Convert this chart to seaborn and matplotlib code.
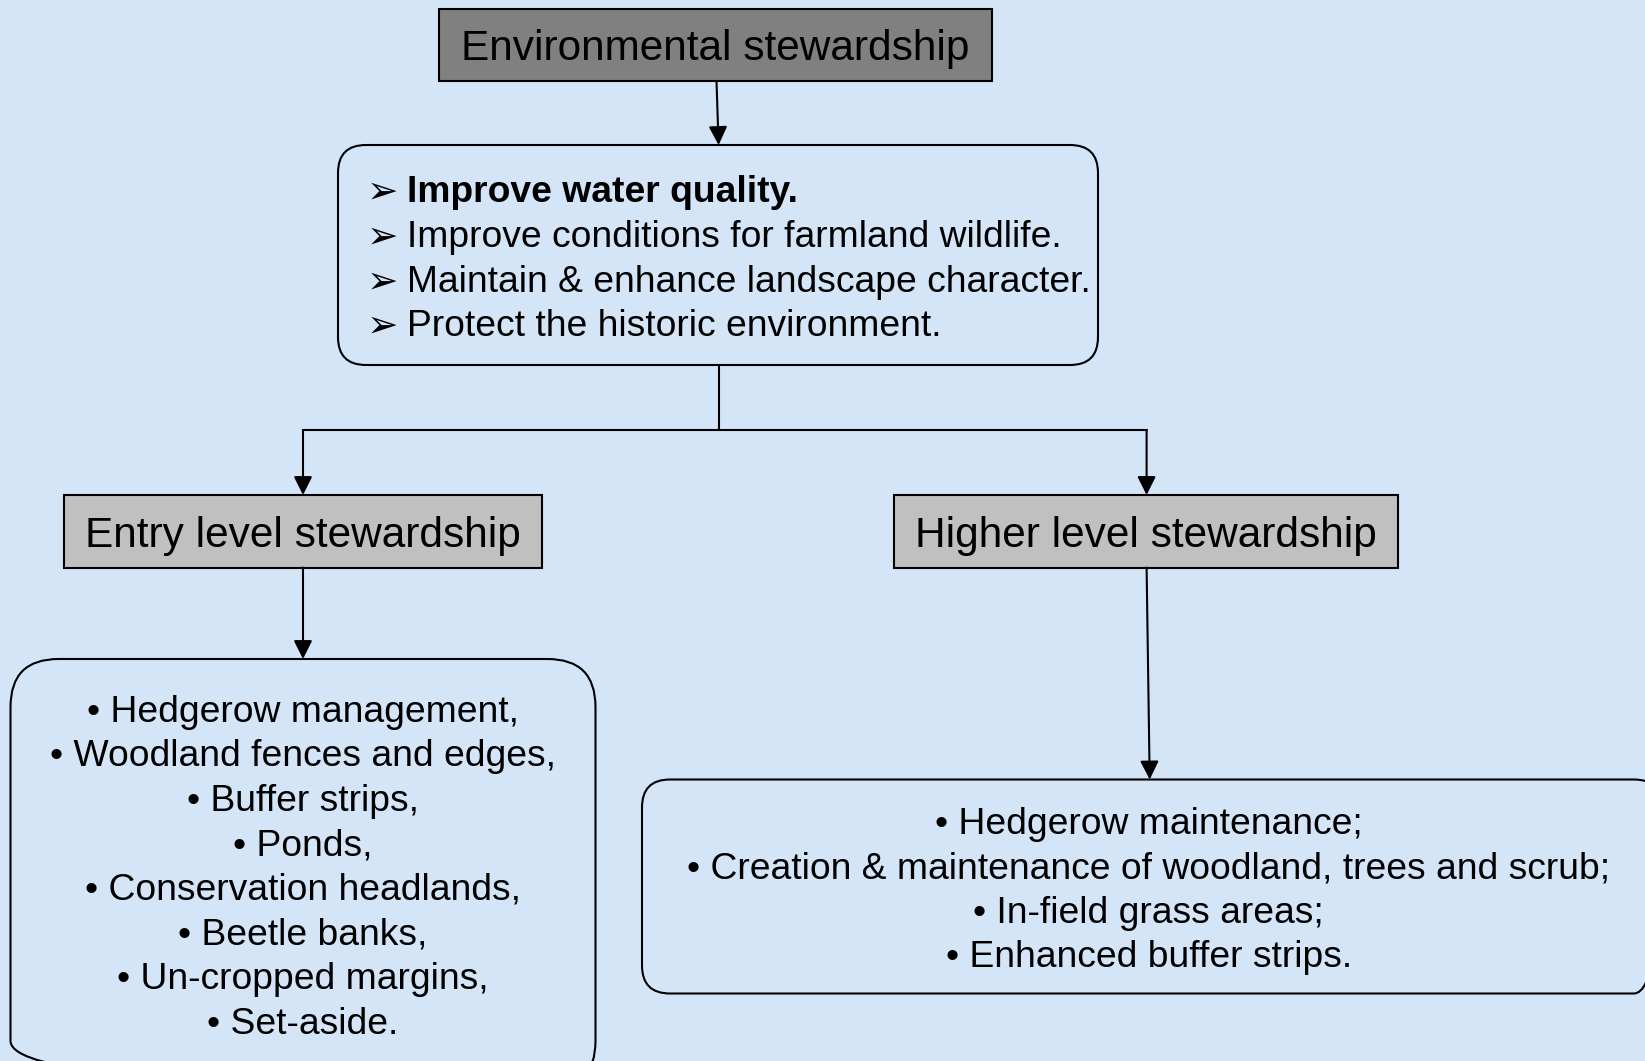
import matplotlib.pyplot as plt
import seaborn as sns
from matplotlib.patches import Rectangle, FancyBboxPatch, FancyArrowPatch

# Tekstinnhold
header_title = 'Environmental stewardship'
level_titles = ['Entry level stewardship', 'Higher level stewardship']
objectives = ['Improve water quality.',
              'Improve conditions for farmland wildlife.',
              'Maintain & enhance landscape character.',
              'Protect the historic environment.']
entry_measures = ['Hedgerow management,', 'Woodland fences and edges,',
                  'Buffer strips,', 'Ponds,', 'Conservation headlands,',
                  'Beetle banks,', 'Un-cropped margins,', 'Set-aside.']
higher_measures = ['Hedgerow maintenance;',
                   'Creation & maintenance of woodland, trees and scrub;',
                   'In-field grass areas;', 'Enhanced buffer strips.']

W, H = 1645, 1061
BG = '#d5e5f8'
LINE_SP = 44.6

sns.set_theme(style='white')
plt.rcParams['font.family'] = ['Liberation Sans', 'DejaVu Sans']
plt.rcParams['text.color'] = 'black'

fig = plt.figure(figsize=(W / 100, H / 100), dpi=100, facecolor=BG)
ax = fig.add_axes([0, 0, 1, 1])
ax.set_xlim(0, W)
ax.set_ylim(H, 0)
ax.axis('off')
ax.set_facecolor(BG)


def arrow(x0, y0, x1, y1):
    ax.add_patch(FancyArrowPatch((x0, y0), (x1, y1), arrowstyle='-|>',
                                 mutation_scale=28, color='black', lw=1.5,
                                 shrinkA=0, shrinkB=0))


# Toppboks
ax.add_patch(Rectangle((438.5, 8.5), 553, 72.5, facecolor='#808080',
                       edgecolor='black', lw=1.5))
ax.text(715, 49, header_title, ha='center', va='center', fontsize=30.5)
arrow(716.5, 81, 718.6, 145)

# Mål
ax.add_patch(FancyBboxPatch((338, 145), 760, 220,
                            boxstyle='round,pad=0,rounding_size=28',
                            facecolor='none', edgecolor='black', lw=1.5))
for i, line in enumerate(objectives):
    y = 193 + i * LINE_SP
    ax.text(367, y, '\u27a2', ha='left', va='center', fontsize=27,
            family='DejaVu Sans', fontweight='bold')
    ax.text(407, y, line, ha='left', va='center', fontsize=26.8,
            fontweight='bold' if i == 0 else 'normal')

# Forgreining
ax.plot([718.6, 718.6], [365, 430], color='black', lw=1.5)
ax.plot([303, 1146.6], [430, 430], color='black', lw=1.5)
arrow(303, 430, 303, 495)
arrow(1146.6, 430, 1146.6, 495)

# Nivåbokser
for (x0, x1), title in zip([(64, 542), (894, 1398)], level_titles):
    ax.add_patch(Rectangle((x0, 495), x1 - x0, 72.5, facecolor='#c0c0c0',
                           edgecolor='black', lw=1.5))
    ax.text((x0 + x1) / 2, 536, title, ha='center', va='center', fontsize=30.5)

arrow(303, 567.5, 303, 659)
arrow(1146.6, 567.5, 1149.7, 779.5)

# Tiltak, inngangsnivå
ax.add_patch(FancyBboxPatch((10.5, 659), 585, 430,
                            boxstyle='round,pad=0,rounding_size=48',
                            facecolor='none', edgecolor='black', lw=1.5))
for i, line in enumerate(entry_measures):
    ax.text(303, 712 + i * LINE_SP, '\u2022 ' + line, ha='center',
            va='center', fontsize=26.8)

# Tiltak, høyere nivå
ax.add_patch(FancyBboxPatch((642, 779.5), 1020, 214,
                            boxstyle='round,pad=0,rounding_size=28',
                            facecolor='none', edgecolor='black', lw=1.5))
for i, line in enumerate(higher_measures):
    ax.text(1148.7, 824 + i * LINE_SP, '\u2022 ' + line, ha='center',
            va='center', fontsize=26.8)

fig.savefig('out.png', dpi=100, facecolor=BG)
plt.close(fig)
